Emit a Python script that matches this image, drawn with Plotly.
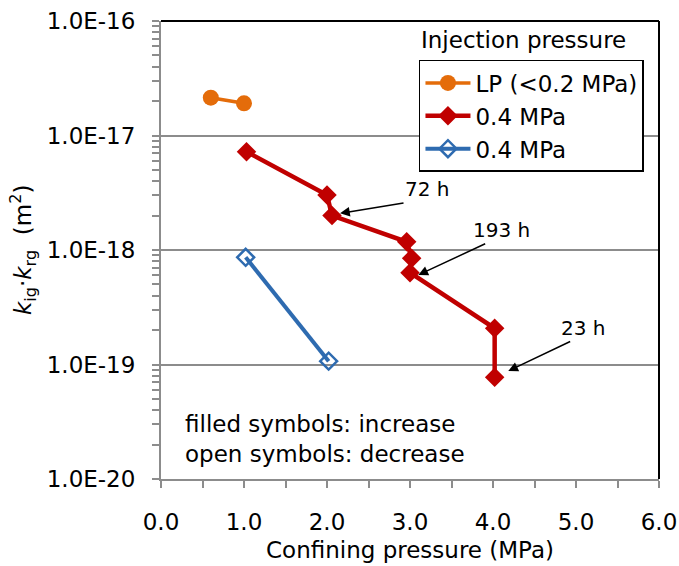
import plotly.graph_objects as go
import math

# ---- data ----
lp_x = [0.60, 1.00]
lp_y = [2.14e-17, 1.91e-17]

inc_x = [1.03, 2.00, 2.06, 2.96, 3.02, 3.00, 4.02, 4.02]
inc_y = [7.22e-18, 3.02e-18, 2.00e-18, 1.18e-18, 8.47e-19, 6.34e-19, 2.07e-19, 7.73e-20]

dec_x = [1.02, 2.02]
dec_y = [8.63e-19, 1.07e-19]

y_tickvals = [1e-20, 1e-19, 1e-18, 1e-17, 1e-16]
y_ticktext = ["1.0E-20", "1.0E-19", "1.0E-18", "1.0E-17", "1.0E-16"]
x_tickvals = [0, 1, 2, 3, 4, 5, 6]
x_ticktext = ["0.0", "1.0", "2.0", "3.0", "4.0", "5.0", "6.0"]

# arrow labels: (text, text x, text y, tail x, tail y, head x, head y)
labels = [
    ("72 h", 3.20, 3.39e-18, 2.94, 2.59e-18, 2.157, 2.09e-18),
    ("193 h", 4.10, 1.50e-18, 3.924, 1.15e-18, 3.10, 6.05e-19),
    ("23 h", 5.084, 2.09e-19, 4.948, 1.61e-19, 4.184, 8.77e-20),
]

FONT = "DejaVu Sans"
FS = 23

fig = go.Figure()
fig.add_trace(go.Scatter(
    x=lp_x, y=lp_y, mode="lines+markers", name="LP (<0.2 MPa)",
    line=dict(color="#E46C0A", width=3.5),
    marker=dict(symbol="circle", size=16, color="#E46C0A"),
))
fig.add_trace(go.Scatter(
    x=inc_x, y=inc_y, mode="lines+markers", name="0.4 MPa",
    line=dict(color="#C00000", width=4.5),
    marker=dict(symbol="diamond", size=15, color="#C00000"),
))
fig.add_trace(go.Scatter(
    x=dec_x, y=dec_y, mode="lines+markers", name="0.4 MPa",
    line=dict(color="#2E6BB0", width=4),
    marker=dict(symbol="diamond-open", size=13, color="#2E6BB0",
                line=dict(width=2.5, color="#2E6BB0")),
))

minor_y = []
for e in range(-20, -16):
    for m in range(2, 10):
        minor_y.append(m * 10 ** e)

fig.update_layout(
    width=679, height=566,
    margin=dict(l=161, r=20, t=21, b=87, autoexpand=False),
    paper_bgcolor="white", plot_bgcolor="white",
    font=dict(family=FONT, size=FS, color="black"),
    showlegend=True,
    legend=dict(
        x=0.518, y=0.915, xanchor="left", yanchor="top",
        bgcolor="white", bordercolor="black", borderwidth=1.5,
        font=dict(family=FONT, size=FS, color="black"),
        tracegroupgap=0, itemsizing="trace", itemwidth=45,
    ),
    xaxis=dict(
        range=[0, 6], showgrid=False, zeroline=False, automargin=False,
        tickmode="array", tickvals=x_tickvals, ticktext=x_ticktext,
        ticks="outside", ticklen=7, tickwidth=2, tickcolor="#8C8C8C",
        ticklabelstandoff=14,
        showline=True, linecolor="#8C8C8C", linewidth=2,
        minor=dict(tickmode="array", tickvals=[0.5, 1.5, 2.5, 3.5, 4.5, 5.5],
                   ticks="outside", ticklen=7, tickwidth=2, tickcolor="#8C8C8C"),
        tickfont=dict(family=FONT, size=FS, color="black"),
    ),
    yaxis=dict(
        type="log", range=[-20, -16], zeroline=False, automargin=False,
        tickmode="array", tickvals=y_tickvals, ticktext=y_ticktext,
        showgrid=True, gridcolor="#8C8C8C", gridwidth=2,
        ticks="outside", ticklen=7, tickwidth=2, tickcolor="#8C8C8C",
        ticklabelstandoff=12,
        showline=True, linecolor="#8C8C8C", linewidth=2,
        minor=dict(tickmode="array", tickvals=minor_y,
                   ticks="outside", ticklen=7, tickwidth=2, tickcolor="#8C8C8C",
                   showgrid=False),
        tickfont=dict(family=FONT, size=FS, color="black"),
    ),
)

# frame top/right
fig.add_shape(type="line", xref="paper", yref="paper", x0=0, x1=1, y0=1, y1=1,
              line=dict(color="black", width=2))
fig.add_shape(type="line", xref="paper", yref="paper", x0=1, x1=1, y0=0, y1=1,
              line=dict(color="black", width=2))

ann = []
# axis titles
ann.append(dict(text="Confining pressure (MPa)", xref="paper", yref="paper",
                x=0.5, y=-0.155, showarrow=False, xanchor="center", yanchor="middle",
                font=dict(family=FONT, size=FS)))
ann.append(dict(text="<i>k</i><sub>ig</sub>·<i>k</i><sub>rg</sub>  (m<sup>2</sup>)",
                xref="paper", yref="paper", x=-0.279, y=0.5, textangle=-90,
                showarrow=False, xanchor="center", yanchor="middle",
                font=dict(family=FONT, size=FS)))
# legend title
ann.append(dict(text="Injection pressure", xref="paper", yref="paper",
                x=0.727, y=0.958, showarrow=False, xanchor="center", yanchor="middle",
                font=dict(family=FONT, size=FS)))
# note
ann.append(dict(text="filled symbols: increase<br>open symbols: decrease",
                xref="paper", yref="paper", x=0.044, y=0.088, align="left",
                showarrow=False, xanchor="left", yanchor="middle",
                font=dict(family=FONT, size=FS)))
for t, tx, ty, axx, ayy, hx, hy in labels:
    ann.append(dict(text=t, x=tx, y=math.log10(ty), xref="x", yref="y",
                    showarrow=False, xanchor="center", yanchor="middle",
                    font=dict(family=FONT, size=20)))
    ann.append(dict(text="", x=hx, y=math.log10(hy), xref="x", yref="y",
                    ax=axx, ay=math.log10(ayy), axref="x", ayref="y",
                    showarrow=True, arrowhead=2, arrowsize=1.3, arrowwidth=1.5,
                    arrowcolor="black", standoff=0, startstandoff=0))
fig.update_layout(annotations=ann)

fig.write_html("out.html")
